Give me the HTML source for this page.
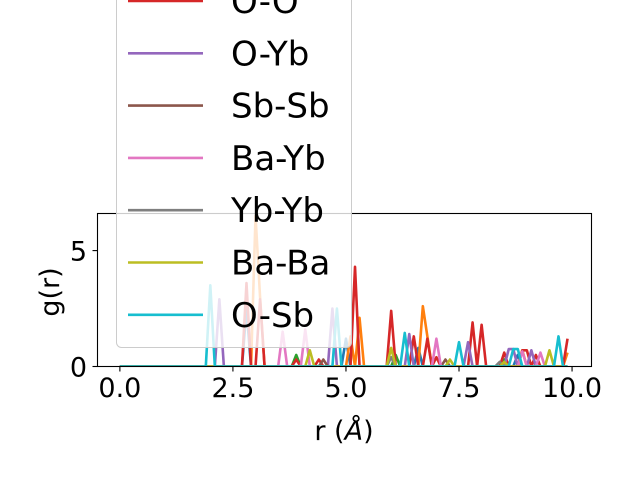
<!DOCTYPE html>
<html><head><meta charset="utf-8"><style>
html,body{margin:0;padding:0;background:#fff;}
svg{display:block;font-family:"DejaVu Sans","Liberation Sans",sans-serif;}
</style></head><body>
<svg id="chart" width="640" height="480" viewBox="0 0 640 480">
<defs><clipPath id="plotclip"><rect x="97.5" y="213.5" width="494" height="153"/></clipPath></defs>
<g id="series" clip-path="url(#plotclip)"></g>
<g id="axes"></g>
<g id="legend"></g>
</svg>
<script>
const rGrid = [0,0.1,0.2,0.3,0.4,0.5,0.6,0.7,0.8,0.9,1,1.1,1.2,1.3,1.4,1.5,1.6,1.7,1.8,1.9,2,2.1,2.2,2.3,2.4,2.5,2.6,2.7,2.8,2.9,3,3.1,3.2,3.3,3.4,3.5,3.6,3.7,3.8,3.9,4,4.1,4.2,4.3,4.4,4.5,4.6,4.7,4.8,4.9,5,5.1,5.2,5.3,5.4,5.5,5.6,5.7,5.8,5.9,6,6.1,6.2,6.3,6.4,6.5,6.6,6.7,6.8,6.9,7,7.1,7.2,7.3,7.4,7.5,7.6,7.7,7.8,7.9,8,8.1,8.2,8.3,8.4,8.5,8.6,8.7,8.8,8.9,9,9.1,9.2,9.3,9.4,9.5,9.6,9.7,9.8,9.9];
const seriesNames = ["O-Ba","Ba-Sb","Sb-Yb","O-O","O-Yb","Sb-Sb","Ba-Yb","Yb-Yb","Ba-Ba","O-Sb"];
const seriesColors = ["#1f77b4","#ff7f0e","#2ca02c","#d62728","#9467bd","#8c564b","#e377c2","#7f7f7f","#bcbd22","#17becf"];
const peaksOBa = [[2.8,2.5],[5.0,1.2],[6.6,0.8],[8.8,0.5]];
const peaksBaSb = [[3.0,6.5],[3.1,3.0],[5.1,1.3],[5.3,2.1],[6.7,2.6],[6.8,1.3],[8.9,0.7],[9.9,0.6]];
const peaksSbYb = [[3.9,0.5],[6.1,0.5],[8.5,0.3]];
const peaksOO = [[2.8,3.6],[3.1,2.9],[3.9,0.3],[4.4,0.3],[5.2,4.3],[6.0,2.4],[6.5,1.3],[6.8,1.2],[7.0,0.4],[7.8,1.9],[8.0,1.8],[8.5,0.6],[8.9,0.7],[9.0,0.7],[9.2,0.5],[9.9,1.2]];
const peaksOYb = [[2.2,2.9],[4.7,2.5],[6.4,1.4],[7.7,1.05],[8.6,0.75],[8.7,0.75],[9.1,0.7]];
const peaksSbSb = [[4.5,0.3],[7.2,0.3]];
const peaksBaYb = [[3.6,1.5],[4.1,1.6],[7.0,1.2],[8.9,0.65],[9.3,0.6]];
const peaksYbYb = [[6.0,0.4],[8.4,0.2]];
const peaksBaBa = [[4.2,0.7],[6.0,0.8],[7.3,0.3],[8.5,0.2],[9.5,0.7]];
const peaksOSb = [[2.0,3.5],[4.8,2.5],[6.3,1.45],[7.5,1.05],[8.7,0.75],[8.8,0.75],[9.7,1.3]];
const seriesPeaks = [peaksOBa,peaksBaSb,peaksSbYb,peaksOO,peaksOYb,peaksSbSb,peaksBaYb,peaksYbYb,peaksBaBa,peaksOSb];
const xTicks = [0,2.5,5,7.5,10];
const xTickLabels = ["0.0","2.5","5.0","7.5","10.0"];
const yTicks = [0,5];
const yTickLabels = ["0","5"];

const X0=97.5,X1=591.5,Y0=366.5,Y1=213.5;
const xMin=-0.495,xMax=10.43,yMin=0,yMax=6.6;
const xs = v => X0+(v-xMin)/(xMax-xMin)*(X1-X0);
const ys = v => Y0-(v-yMin)/(yMax-yMin)*(Y0-Y1);
const NS="http://www.w3.org/2000/svg";
function mk(tag,parent){const e=document.createElementNS(NS,tag);parent.appendChild(e);return e;}

const sg=document.getElementById('series');
seriesPeaks.forEach((pk,i)=>{
  const vals = rGrid.map(r=>{const f=pk.find(p=>Math.abs(p[0]-r)<1e-6);return f?f[1]:0;});
  const pl=mk('polyline',sg);
  pl.setAttribute('points',rGrid.map((r,j)=>xs(r).toFixed(2)+','+ys(vals[j]).toFixed(2)).join(' '));
  pl.setAttribute('fill','none');pl.setAttribute('stroke',seriesColors[i]);
  pl.setAttribute('stroke-width','2.6');pl.setAttribute('stroke-linejoin','round');
  
  
});

const ax=document.getElementById('axes');
const fr=mk('rect',ax);
fr.setAttribute('x',X0);fr.setAttribute('y',Y1);fr.setAttribute('width',X1-X0);fr.setAttribute('height',Y0-Y1);
fr.setAttribute('fill','none');fr.setAttribute('stroke','#000');fr.setAttribute('stroke-width','1.1');


xTicks.forEach((t,i)=>{
  const l=mk('line',ax);l.setAttribute('x1',xs(t));l.setAttribute('x2',xs(t));l.setAttribute('y1',Y0);l.setAttribute('y2',Y0+5);l.setAttribute('stroke','#000');l.setAttribute('stroke-width','1.1');
  
  
  const tx=mk('text',ax);tx.setAttribute('x',xs(t));tx.setAttribute('y',397);tx.setAttribute('text-anchor','middle');tx.setAttribute('font-size','27');tx.textContent=xTickLabels[i];
  
  
});
yTicks.forEach((t,i)=>{
  const l=mk('line',ax);l.setAttribute('x1',X0-5);l.setAttribute('x2',X0);l.setAttribute('y1',ys(t));l.setAttribute('y2',ys(t));l.setAttribute('stroke','#000');l.setAttribute('stroke-width','1.1');
  
  
  const tx=mk('text',ax);tx.setAttribute('x',87);tx.setAttribute('y',ys(t)+10);tx.setAttribute('text-anchor','end');tx.setAttribute('font-size','27');tx.textContent=yTickLabels[i];
  
  
});
const yl=mk('text',ax);yl.setAttribute('transform','translate(59,292) rotate(-90)');yl.setAttribute('text-anchor','middle');yl.setAttribute('font-size','27');yl.textContent='g(r)';


const xl=mk('text',ax);xl.setAttribute('x',344);xl.setAttribute('y',440);xl.setAttribute('text-anchor','middle');xl.setAttribute('font-size','27');
xl.innerHTML='r (<tspan font-style="italic">Å</tspan>)';



const lg=document.getElementById('legend');
const lb=mk('rect',lg);
lb.setAttribute('x',116.5);lb.setAttribute('y',-180);lb.setAttribute('width',235);lb.setAttribute('height',527.5);lb.setAttribute('rx',5);
lb.setAttribute('fill','rgba(255,255,255,0.8)');lb.setAttribute('stroke','#cccccc');lb.setAttribute('stroke-width','1');


seriesNames.forEach((n,i)=>{
  const y=1+(i-3)*52.3;
  const g=mk('g',lg);
  
  
  const l=mk('line',g);l.setAttribute('x1',128);l.setAttribute('x2',203);l.setAttribute('y1',y);l.setAttribute('y2',y);l.setAttribute('stroke',seriesColors[i]);l.setAttribute('stroke-width','2.6');
  const t=mk('text',g);t.setAttribute('x',231);t.setAttribute('y',y+12);t.setAttribute('font-size','34');t.textContent=n;
});
</script>
</body></html>
